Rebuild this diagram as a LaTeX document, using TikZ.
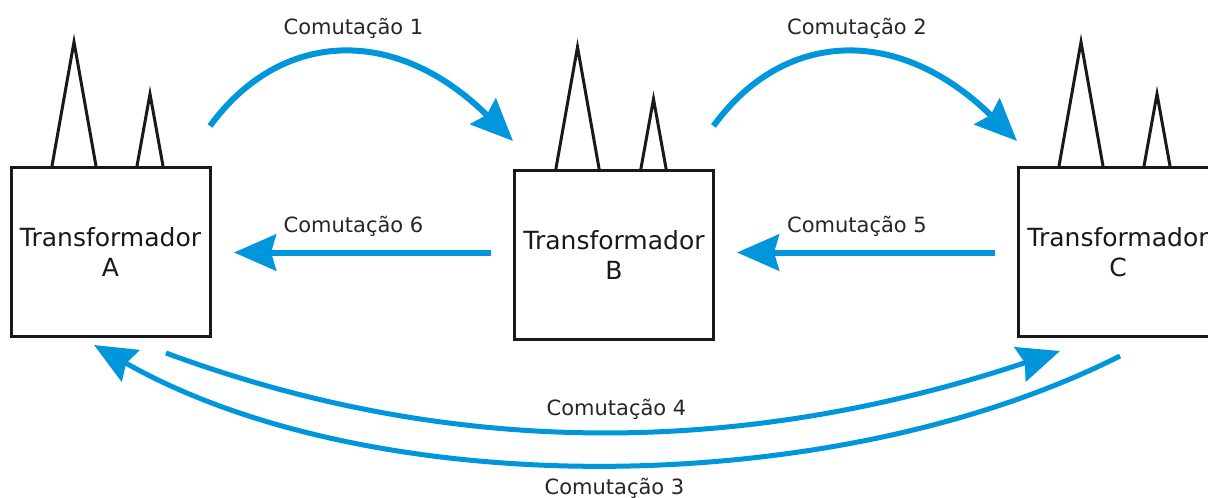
\documentclass[tikz,border=0pt]{standalone}
\usepackage{fontspec}
\setmainfont{DejaVu Sans}
\usetikzlibrary{arrows.meta}
\definecolor{arrowblue}{HTML}{0096DC}
\tikzset{
 xfbox/.style={draw=black!90,line width=3pt,minimum width=199pt,minimum height=169pt,inner sep=0pt,outer sep=0pt,anchor=north west},
 bush/.style={draw=black!90,line width=3pt,line join=miter},
 sw/.style={draw=arrowblue,line width=6pt,-{Stealth[length=42pt,width=36pt,inset=5pt]}},
 swthin/.style={draw=arrowblue,line width=5pt,-{Stealth[length=42pt,width=36pt,inset=5pt]}},
 lab/.style={font=\fontsize{21}{24}\selectfont,text=black!85,inner sep=0pt},
 tlab/.style={font=\fontsize{25}{30}\selectfont,text=black!90,align=center,inner sep=0pt}
}
\begin{document}
\begin{tikzpicture}[x=1pt,y=-1pt]
\useasboundingbox (0,0) rectangle (1208,498);
\node[xfbox] (A) at (11,167) {};
\node[xfbox] (B) at (514.5,170) {};
\node[xfbox] (C) at (1018,167) {};
\node[tlab] (ta) at (110.5,252) {Transformador\\A};
\node[tlab] (tb) at (614,255) {Transformador\\B};
\node[tlab] (tc) at (1118,252) {Transformador\\C};
\foreach \x/\y in {0/0,503.5/5,1007/0}{
 \begin{scope}[shift={(\x,\y)}]
 \draw[bush] (52,166) -- (74,42) -- (96,166);
 \draw[bush] (137,166) -- (150,94) -- (163,166);
 \end{scope}}
\coordinate (a1) at (210,126);
\coordinate (b1) at (513,141);
\coordinate (b2) at (713.5,126);
\coordinate (c2) at (1017,141);
\draw[sw] (a1) .. controls (280,30) and (395,24) .. (b1);
\draw[sw] (b2) .. controls (783,30) and (898,24) .. (c2);
\coordinate (b6) at (491,252.5);
\coordinate (a6) at (234,252.5);
\coordinate (c5) at (995,252.5);
\coordinate (b5) at (737,252.5);
\draw[sw] (b6) -- (a6);
\draw[sw] (c5) -- (b5);
\coordinate (a4) at (166,353);
\coordinate (c4) at (1060,351);
\coordinate (c3) at (1120,356);
\coordinate (a3) at (94,345);
\draw[swthin] (a4) .. controls (450,458) and (740,458) .. (c4);
\draw[swthin] (c3) .. controls (830,502) and (370,502) .. (a3);
\node[lab] (l1) at (353.5,28) {Comutação 1};
\node[lab] (l2) at (857,28) {Comutação 2};
\node[lab] (l6) at (353.5,226) {Comutação 6};
\node[lab] (l5) at (857,226) {Comutação 5};
\node[lab] (l4) at (616.5,409) {Comutação 4};
\node[lab] (l3) at (614.5,488) {Comutação 3};
\end{tikzpicture}
\end{document}
